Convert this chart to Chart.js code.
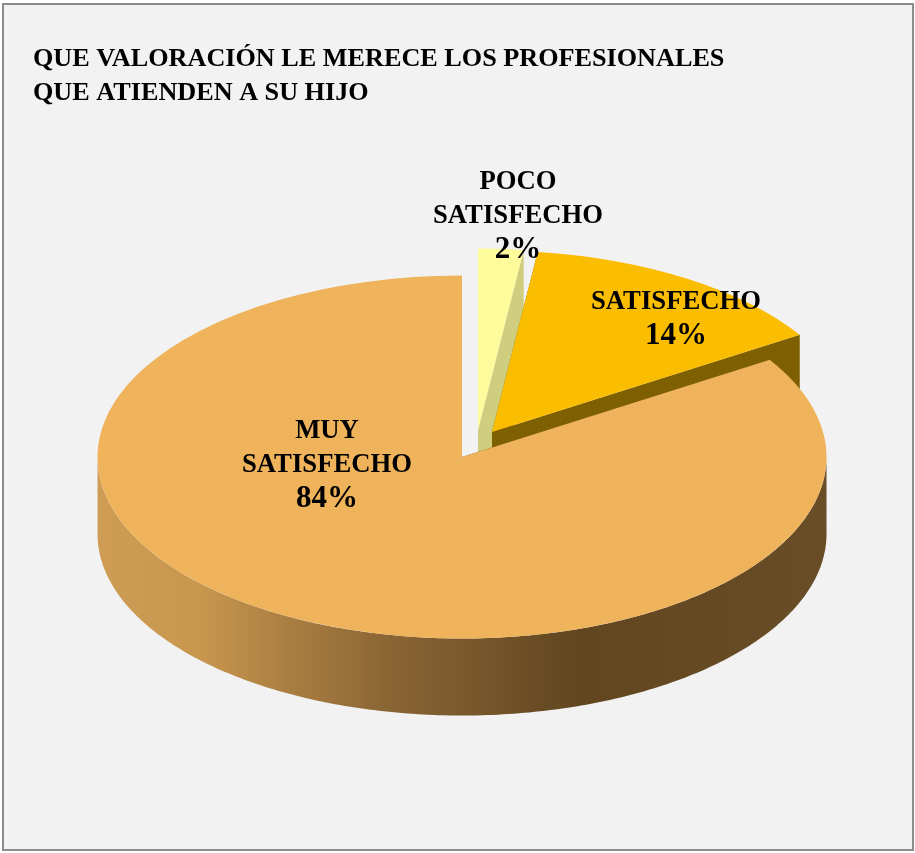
<!DOCTYPE html>
<html>
<head>
<meta charset="utf-8">
<style>
html,body{margin:0;padding:0;background:#fff;}
#frame{position:absolute;left:2px;top:3px;width:908px;height:844px;background:#F2F2F2;border:2px solid #8C8C8C;}
canvas{position:absolute;left:0;top:0;}
</style>
<script src="https://cdn.jsdelivr.net/npm/chart.js@4/dist/chart.umd.min.js"></script>
</head>
<body>
<div id="frame"></div>
<canvas id="c" width="915" height="853"></canvas>
<script>
const titleLines = ["QUE VALORACIÓN LE MERECE LOS PROFESIONALES", "QUE ATIENDEN A SU HIJO"];
const categories = ["MUY SATISFECHO", "POCO SATISFECHO", "SATISFECHO"];
const values = [84, 2, 14];
const topColors = ["#EFB35B", "#FDFB9C", "#FBBD00"];
const wallColors = ["#61461F", "#CFCD7E", "#7F6000"];
const explode = [[0, 0], [16, -27], [30, -25]];
const labelOffsets = [[-135, 8], [56, -241], [214, -138]];
const paintOrder = [1, 2, 0];
const FONT = '"Liberation Serif"';

const squash = 0.498, depth = 77;

const pie3d = {
  id: 'pie3d',
  beforeDatasetDraw(chart, args) {
    const ctx = chart.ctx;
    const arcs = chart.getDatasetMeta(args.index).data;
    const pt = (a, r, cx, cy, ex, ey, d) => [cx + ex + r * Math.cos(a), cy + ey + squash * r * Math.sin(a) + d];
    paintOrder.forEach(i => {
      const arc = arcs[i];
      const {x, y, startAngle, endAngle, outerRadius: r} = arc.getProps(['x', 'y', 'startAngle', 'endAngle', 'outerRadius']);
      const [ex, ey] = explode[i];
      ctx.save();
      // cut faces
      ctx.fillStyle = wallColors[i];
      [startAngle, endAngle].forEach(a => {
        const p = pt(a, r, x, y, ex, ey, 0), q = pt(a, r, x, y, ex, ey, depth);
        ctx.beginPath();
        ctx.moveTo(x + ex, y + ey);
        ctx.lineTo(p[0], p[1]);
        ctx.lineTo(q[0], q[1]);
        ctx.lineTo(x + ex, y + ey + depth);
        ctx.closePath();
        ctx.fill();
      });
      // outer wall: only the part facing the viewer
      const top = [], bottom = [];
      const n = 360;
      for (let k = 0; k <= n; k++) {
        const a = startAngle + (endAngle - startAngle) * k / n;
        if (Math.sin(a) >= 0) {
          top.push(pt(a, r, x, y, ex, ey, 0));
          bottom.push(pt(a, r, x, y, ex, ey, depth));
        }
      }
      if (top.length > 1) {
        const g = ctx.createLinearGradient(x - r, 0, x + r, 0);
        if (i === 0) {
          g.addColorStop(0, '#CE9C54');
          g.addColorStop(0.14, '#C8974E');
          g.addColorStop(0.28, '#A67B40');
          g.addColorStop(0.40, '#8A6534');
          g.addColorStop(0.66, '#614620');
          g.addColorStop(1, '#694D26');
        } else {
          g.addColorStop(0, wallColors[i]);
          g.addColorStop(1, wallColors[i]);
        }
        ctx.fillStyle = g;
        ctx.beginPath();
        top.forEach((p, k) => k ? ctx.lineTo(p[0], p[1]) : ctx.moveTo(p[0], p[1]));
        bottom.reverse().forEach(p => ctx.lineTo(p[0], p[1]));
        ctx.closePath();
        ctx.fill();
      }
      // top face, drawn by the library's own arc element
      ctx.translate(x + ex, y + ey);
      ctx.scale(1, squash);
      ctx.translate(-x, -y);
      arc.draw(ctx);
      ctx.restore();
    });
    return false;
  },
  afterDraw(chart) {
    const ctx = chart.ctx;
    const arcs = chart.getDatasetMeta(0).data;
    const total = values.reduce((s, v) => s + v, 0);
    ctx.save();
    ctx.fillStyle = '#000';
    ctx.textAlign = 'center';
    ctx.textBaseline = 'middle';
    categories.forEach((c, i) => {
      const words = c.split(' ');
      const lines = words.concat([Math.round(values[i] / total * 100) + '%']);
      const cx = arcs[i].x + labelOffsets[i][0];
      const cy = arcs[i].y + labelOffsets[i][1];
      lines.forEach((t, k) => {
        ctx.font = 'bold ' + (k === lines.length - 1 ? 31 : 26.7) + 'px ' + FONT;
        ctx.fillText(t, cx, cy + (k - (lines.length - 1) / 2) * 34);
      });
    });
    ctx.restore();
  }
};

new Chart(document.getElementById('c'), {
  type: 'pie',
  data: {
    labels: categories,
    datasets: [{data: values, backgroundColor: topColors, borderWidth: 0}]
  },
  options: {
    responsive: false,
    animation: false,
    devicePixelRatio: 1,
    rotation: 57.6,
    radius: 364.5,
    layout: {padding: {left: 33, right: 24, top: 0, bottom: 49}},
    plugins: {
      legend: {display: false},
      tooltip: {enabled: false},
      title: {
        display: true,
        text: titleLines,
        align: 'start',
        color: '#000',
        font: {family: FONT, size: 26.2, weight: 'bold', lineHeight: 34 / 26.2},
        padding: {top: 42, bottom: 0}
      }
    }
  },
  plugins: [pie3d]
});
</script>
</body>
</html>
